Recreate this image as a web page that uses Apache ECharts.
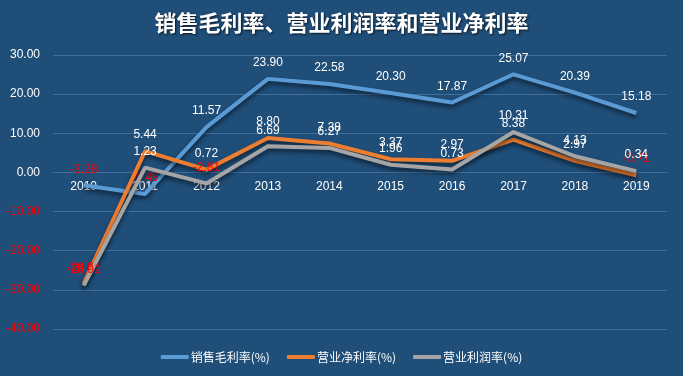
<!DOCTYPE html>
<html>
<head>
<meta charset="utf-8">
<script src="https://cdn.jsdelivr.net/npm/echarts@6/dist/echarts.min.js"></script>
<style>
html, body { margin: 0; padding: 0; background: #1f4e79; }
#chart { width: 683px; height: 376px; }
</style>
</head>
<body>
<div id="chart"></div>
<script>
var years = ['2010', '2011', '2012', '2013', '2014', '2015', '2016', '2017', '2018', '2019'];
var grossMargin = [-3.28, -5.49, 11.57, 23.90, 22.58, 20.30, 17.87, 25.07, 20.39, 15.18];
var netMargin = [-28.35, 5.44, 0.72, 8.80, 7.38, 3.37, 2.97, 8.38, 2.97, -0.71];
var operMargin = [-28.91, 1.23, -2.81, 6.69, 6.27, 1.96, 0.73, 10.31, 4.13, 0.34];

var names = ['销售毛利率(%)', '营业净利率(%)', '营业利润率(%)'];
var colors = ['#5b9bd5', '#ed7d31', '#a5a5a5'];

// negative labels are red, positive ones white
function withLabels(arr) {
    return arr.map(function (v) {
        return { value: v, label: { color: v < 0 ? '#ff0000' : '#ffffff' } };
    });
}

function makeSeries(i, arr) {
    return {
        name: names[i],
        type: 'line',
        data: withLabels(arr),
        symbol: 'circle',
        symbolSize: 0.1,
        showSymbol: true,
        z: 2 + i,
        lineStyle: {
            width: 4,
            color: colors[i],
            shadowColor: 'rgba(0,0,0,0.55)',
            shadowBlur: 4,
            shadowOffsetY: 3
        },
        itemStyle: { color: colors[i] },
        label: {
            show: true,
            position: 'top',
            distance: 10,
            fontSize: 12,
            fontFamily: 'Liberation Sans',
            formatter: function (p) { return Number(p.value).toFixed(2); }
        },
        labelLayout: { hideOverlap: false }
    };
}

var myChart = echarts.init(document.getElementById('chart'));
myChart.setOption({
    backgroundColor: '#1f4e79',
    animation: false,
    title: {
        text: '销售毛利率、营业利润率和营业净利率',
        left: 'center',
        top: 7,
        textStyle: {
            color: '#ffffff',
            fontSize: 22,
            fontWeight: 'bold',
            fontFamily: 'Noto Sans CJK SC',
            textShadowColor: 'rgba(0,0,0,0.7)',
            textShadowBlur: 2,
            textShadowOffsetX: 1,
            textShadowOffsetY: 1
        }
    },
    legend: {
        bottom: 8,
        left: 'center',
        itemWidth: 28,
        itemHeight: 4,
        itemGap: 17,
        icon: 'roundRect',
        textStyle: { color: '#ffffff', fontSize: 12, fontFamily: 'Noto Sans CJK SC', padding: [0, 0, 0, -3] },
        data: names
    },
    grid: { left: 53, right: 16, top: 55, bottom: 47 },
    xAxis: {
        type: 'category',
        data: years,
        boundaryGap: true,
        offset: -156.6,
        axisLine: { onZero: false, lineStyle: { color: '#3f6e9b', width: 1 } },
        axisTick: { show: false },
        axisLabel: { color: '#ffffff', fontSize: 12, fontFamily: 'Liberation Sans', margin: 8 }
    },
    yAxis: {
        type: 'value',
        min: -40,
        max: 30,
        interval: 10,
        axisLine: { show: false },
        axisTick: { show: false },
        splitLine: { lineStyle: { color: '#3f6e9b', width: 1 } },
        axisLabel: {
            fontSize: 12,
            fontFamily: 'Liberation Sans',
            margin: 13,
            formatter: function (v) { return v.toFixed(2); },
            color: function (v) { return Number(v) < 0 ? '#ff0000' : '#ffffff'; }
        }
    },
    series: [
        makeSeries(0, grossMargin),
        makeSeries(1, netMargin),
        makeSeries(2, operMargin)
    ]
});
</script>
</body>
</html>
